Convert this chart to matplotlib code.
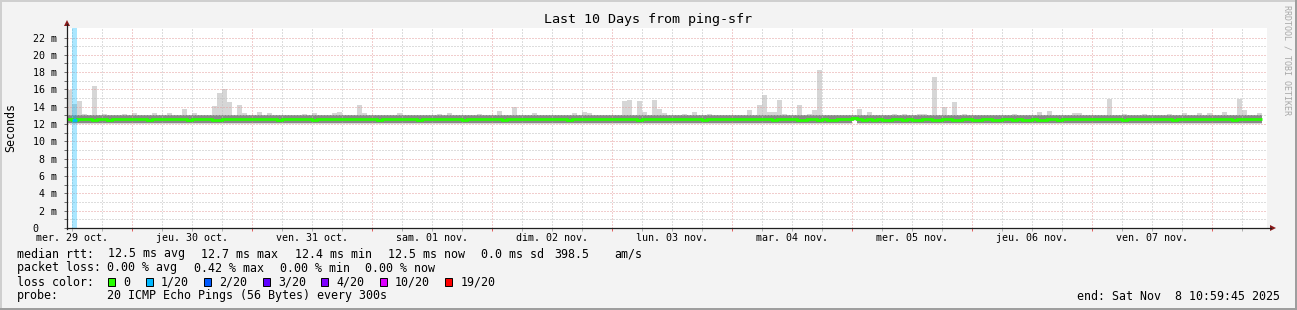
import matplotlib
matplotlib.use('Agg')
import matplotlib.pyplot as plt
from matplotlib.lines import Line2D
from matplotlib.patches import Polygon, Rectangle

# ---------------- data (hourly, 29 oct 11:00 -> 08 nov 10:00) ----------------
ping_max = [
    15.9, 14.3, 14.7, 13.15, 13.1, 16.35, 13.1, 13.15, 13.1, 13.1, 13.1, 13.15, 13.1,
    13.3, 13.1, 13.1, 13.1, 13.3, 13.1, 13.1, 13.3, 13.1, 13.1, 13.8, 13.1,
    13.3, 13.1, 13.1, 13.1, 14.1, 15.65, 16.1, 14.6, 13.1, 14.25, 13.3, 13.1,
    13.1, 13.35, 13.1, 13.25, 13.1, 13.1, 13.1, 13.1, 13.1, 13.1, 13.15, 13.1,
    13.25, 13.1, 13.1, 13.1, 13.25, 13.4, 13.1, 13.1, 13.1, 14.15, 13.25, 13.1,
    13.1, 13.1, 13.1, 13.1, 13.1, 13.25, 13.1, 13.1, 13.1, 13.1, 13.1, 13.1,
    13.1, 13.15, 13.1, 13.25, 13.1, 13.1, 13.1, 13.1, 13.1, 13.15, 13.1, 13.1,
    13.1, 13.55, 13.1, 13.1, 13.95, 13.1, 13.1, 13.1, 13.3, 13.1, 13.1, 13.1,
    13.1, 13.1, 13.1, 13.1, 13.25, 13.1, 13.35, 13.25, 13.1, 13.1, 13.1, 13.1,
    13.1, 13.1, 14.65, 14.8, 13.1, 14.7, 13.35, 13.1, 14.8, 13.8, 13.25, 13.1,
    13.1, 13.1, 13.2, 13.1, 13.35, 13.1, 13.1, 13.2, 13.1, 13.1, 13.1, 13.1,
    13.1, 13.1, 13.1, 13.6, 13.1, 14.15, 15.4, 13.35, 13.35, 14.8, 13.2, 13.1,
    13.1, 14.15, 13.1, 13.2, 13.65, 18.2, 13.1, 13.1, 13.1, 13.1, 13.1, 13.1,
    13.1, 13.8, 13.1, 13.35, 13.1, 13.1, 13.1, 13.1, 13.2, 13.1, 13.2, 13.1,
    13.1, 13.15, 13.2, 13.1, 17.4, 13.1, 14.0, 13.1, 14.6, 13.1, 13.2, 13.1,
    13.1, 13.1, 13.1, 13.1, 13.1, 13.1, 13.1, 13.1, 13.2, 13.1, 13.1, 13.1,
    13.1, 13.35, 13.1, 13.5, 13.1, 13.1, 13.1, 13.1, 13.25, 13.25, 13.1, 13.1,
    13.1, 13.1, 13.1, 14.95, 13.1, 13.1, 13.2, 13.1, 13.1, 13.1, 13.2, 13.1,
    13.1, 13.1, 13.1, 13.2, 13.1, 13.1, 13.25, 13.1, 13.1, 13.25, 13.1, 13.25,
    13.1, 13.1, 13.35, 13.1, 13.1, 14.95, 13.6, 13.1, 13.1, 13.25,
]

ping_p75 = [
    13.05, 13.05, 13.05, 13.05, 13.05, 13.05, 13.05, 13.05, 13.05, 13.05, 13.05, 13.05, 13.05,
    13.05, 13.05, 13.05, 13.05, 13.05, 13.05, 13.05, 13.05, 13.05, 13.05, 13.05, 13.05,
    13.05, 13.05, 13.05, 13.05, 13.05, 13.05, 13.05, 13.05, 13.05, 13.05, 13.05, 13.05,
    13.05, 13.05, 13.05, 13.05, 13.05, 13.05, 13.05, 13.05, 13.05, 13.05, 13.05, 13.05,
    13.05, 13.05, 13.05, 13.05, 13.05, 13.05, 13.05, 13.05, 13.05, 13.05, 13.05, 13.05,
    13.05, 13.05, 13.05, 13.05, 13.05, 13.05, 13.05, 13.05, 13.05, 13.05, 13.05, 13.05,
    13.05, 13.05, 13.05, 13.05, 13.05, 13.05, 13.05, 13.05, 13.05, 13.05, 13.05, 13.05,
    13.05, 13.05, 13.05, 13.05, 13.05, 13.05, 13.05, 13.05, 13.05, 13.05, 13.05, 13.05,
    13.05, 13.05, 13.05, 13.05, 13.05, 13.05, 13.05, 13.05, 13.05, 13.05, 13.05, 13.05,
    13.05, 13.05, 13.05, 13.05, 13.05, 13.05, 13.05, 13.05, 13.05, 13.05, 13.05, 13.05,
    13.05, 13.05, 13.05, 13.05, 13.05, 13.05, 13.05, 13.05, 13.05, 13.05, 13.05, 13.05,
    13.05, 13.05, 13.05, 13.05, 13.05, 13.05, 13.05, 13.05, 13.05, 13.05, 13.05, 13.05,
    13.05, 13.05, 13.05, 13.05, 13.05, 13.05, 13.05, 13.05, 13.05, 13.05, 13.05, 13.05,
    13.08, 13.05, 13.05, 13.05, 13.05, 13.05, 13.05, 13.05, 13.05, 13.05, 13.05, 13.05,
    13.05, 13.05, 13.05, 13.05, 13.05, 13.05, 13.05, 13.05, 13.05, 13.05, 13.05, 13.05,
    13.05, 13.05, 13.05, 13.05, 13.05, 13.05, 13.05, 13.05, 13.05, 13.05, 13.05, 13.05,
    13.05, 13.05, 13.05, 13.05, 13.05, 13.05, 13.05, 13.05, 13.05, 13.05, 13.05, 13.05,
    13.05, 13.05, 13.05, 13.05, 13.05, 13.05, 13.05, 13.05, 13.05, 13.05, 13.05, 13.05,
    13.05, 13.05, 13.05, 13.05, 13.05, 13.05, 13.05, 13.05, 13.05, 13.05, 13.05, 13.05,
    13.05, 13.05, 13.05, 13.05, 13.05, 13.05, 13.05, 13.05, 13.05, 13.05,
]

median_rtt = [
    12.55, 12.52, 12.55, 12.55, 12.57, 12.47, 12.55, 12.55, 12.5, 12.55, 12.55, 12.57, 12.55,
    12.55, 12.55, 12.57, 12.52, 12.55, 12.55, 12.55, 12.57, 12.55, 12.55, 12.55, 12.52,
    12.55, 12.55, 12.55, 12.55, 12.52, 12.47, 12.55, 12.55, 12.57, 12.55, 12.55, 12.55,
    12.55, 12.55, 12.57, 12.55, 12.55, 12.52, 12.55, 12.55, 12.55, 12.57, 12.55, 12.55,
    12.52, 12.55, 12.55, 12.57, 12.55, 12.55, 12.55, 12.55, 12.57, 12.55, 12.55, 12.55,
    12.55, 12.52, 12.55, 12.55, 12.55, 12.57, 12.55, 12.55, 12.55, 12.52, 12.55, 12.55,
    12.55, 12.57, 12.55, 12.55, 12.55, 12.55, 12.52, 12.55, 12.55, 12.55, 12.57, 12.55,
    12.55, 12.55, 12.52, 12.55, 12.57, 12.55, 12.55, 12.55, 12.55, 12.57, 12.55, 12.55,
    12.55, 12.55, 12.55, 12.52, 12.55, 12.55, 12.57, 12.55, 12.55, 12.55, 12.55, 12.55,
    12.55, 12.57, 12.55, 12.55, 12.55, 12.52, 12.55, 12.55, 12.55, 12.57, 12.55, 12.55,
    12.55, 12.55, 12.57, 12.55, 12.55, 12.55, 12.52, 12.55, 12.55, 12.55, 12.57, 12.55,
    12.55, 12.55, 12.55, 12.57, 12.55, 12.55, 12.55, 12.55, 12.52, 12.55, 12.55, 12.55,
    12.55, 12.52, 12.5, 12.55, 12.55, 12.5, 12.55, 12.52, 12.5, 12.55, 12.55, 12.55,
    12.72, 12.55, 12.52, 12.55, 12.5, 12.55, 12.52, 12.5, 12.55, 12.55, 12.5, 12.55,
    12.52, 12.5, 12.55, 12.55, 12.52, 12.5, 12.55, 12.55, 12.5, 12.52, 12.55, 12.55,
    12.52, 12.5, 12.55, 12.55, 12.5, 12.52, 12.55, 12.55, 12.5, 12.55, 12.52, 12.5,
    12.55, 12.52, 12.5, 12.55, 12.55, 12.52, 12.55, 12.55, 12.55, 12.57, 12.55, 12.55,
    12.55, 12.55, 12.55, 12.57, 12.55, 12.55, 12.52, 12.55, 12.55, 12.55, 12.57, 12.55,
    12.55, 12.55, 12.55, 12.55, 12.52, 12.55, 12.55, 12.57, 12.55, 12.55, 12.55, 12.55,
    12.55, 12.57, 12.55, 12.55, 12.52, 12.55, 12.55, 12.55, 12.57, 12.55,
]

ping_p25 = [
    12.12, 12.12, 12.12, 12.12, 12.12, 12.12, 12.12, 12.12, 12.12, 12.12, 12.12, 12.12, 12.12,
    12.12, 12.12, 12.12, 12.12, 12.12, 12.12, 12.12, 12.12, 12.12, 12.12, 12.12, 12.12,
    12.12, 12.12, 12.12, 12.12, 12.12, 12.12, 12.12, 12.12, 12.12, 12.12, 12.12, 12.12,
    12.12, 12.12, 12.12, 12.12, 12.12, 12.12, 12.12, 12.12, 12.12, 12.12, 12.12, 12.12,
    12.12, 12.12, 12.12, 12.12, 12.12, 12.12, 12.12, 12.12, 12.12, 12.12, 12.12, 12.12,
    12.12, 12.12, 12.12, 12.12, 12.12, 12.12, 12.12, 12.12, 12.12, 12.12, 12.12, 12.12,
    12.12, 12.12, 12.12, 12.12, 12.12, 12.12, 12.12, 12.12, 12.12, 12.12, 12.12, 12.12,
    12.12, 12.12, 12.12, 12.12, 12.12, 12.12, 12.12, 12.12, 12.12, 12.12, 12.12, 12.12,
    12.12, 12.12, 12.12, 12.12, 12.12, 12.12, 12.12, 12.12, 12.12, 12.12, 12.12, 12.12,
    12.12, 12.12, 12.12, 12.12, 12.12, 12.12, 12.12, 12.12, 12.12, 12.12, 12.12, 12.12,
    12.12, 12.12, 12.12, 12.12, 12.12, 12.12, 12.12, 12.12, 12.12, 12.12, 12.12, 12.12,
    12.12, 12.12, 12.12, 12.12, 12.12, 12.12, 12.12, 12.12, 12.12, 12.12, 12.12, 12.12,
    12.12, 12.12, 12.12, 12.12, 12.12, 12.12, 12.12, 12.12, 12.12, 12.12, 12.12, 12.12,
    12.5, 12.12, 12.12, 12.12, 12.12, 12.12, 12.12, 12.12, 12.12, 12.12, 12.12, 12.12,
    12.12, 12.12, 12.12, 12.12, 12.12, 12.12, 12.12, 12.12, 12.12, 12.12, 12.12, 12.12,
    12.12, 12.12, 12.12, 12.12, 12.12, 12.12, 12.12, 12.12, 12.12, 12.12, 12.12, 12.12,
    12.12, 12.12, 12.12, 12.12, 12.12, 12.12, 12.12, 12.12, 12.12, 12.12, 12.12, 12.12,
    12.12, 12.12, 12.12, 12.12, 12.12, 12.12, 12.12, 12.12, 12.12, 12.12, 12.12, 12.12,
    12.12, 12.12, 12.12, 12.12, 12.12, 12.12, 12.12, 12.12, 12.12, 12.12, 12.12, 12.12,
    12.12, 12.12, 12.12, 12.12, 12.12, 12.12, 12.12, 12.12, 12.12, 12.12,
]

ping_min = [
    12.04, 12.04, 12.04, 12.04, 12.04, 12.04, 12.04, 12.04, 12.04, 12.04, 12.04, 12.04, 12.04,
    12.04, 12.04, 12.04, 12.04, 12.04, 12.04, 12.04, 12.04, 12.04, 12.04, 12.04, 12.04,
    12.04, 12.04, 12.04, 12.04, 12.04, 12.04, 12.04, 12.04, 12.04, 12.04, 12.04, 12.04,
    12.04, 12.04, 12.04, 12.04, 12.04, 12.04, 12.04, 12.04, 12.04, 12.04, 12.04, 12.04,
    12.04, 12.04, 12.04, 12.04, 12.04, 12.04, 12.04, 12.04, 12.04, 12.04, 12.04, 12.04,
    12.04, 12.04, 12.04, 12.04, 12.04, 12.04, 12.04, 12.04, 12.04, 12.04, 12.04, 12.04,
    12.04, 12.04, 12.04, 12.04, 12.04, 12.04, 12.04, 12.04, 12.04, 12.04, 12.04, 12.04,
    12.04, 12.04, 12.04, 12.04, 12.04, 12.04, 12.04, 12.04, 12.04, 12.04, 12.04, 12.04,
    12.04, 12.04, 12.04, 12.04, 12.04, 12.04, 12.04, 12.04, 12.04, 12.04, 12.04, 12.04,
    12.04, 12.04, 12.04, 12.04, 12.04, 12.04, 12.04, 12.04, 12.04, 12.04, 12.04, 12.04,
    12.04, 12.04, 12.04, 12.04, 12.04, 12.04, 12.04, 12.04, 12.04, 12.04, 12.04, 12.04,
    12.04, 12.04, 12.04, 12.04, 12.04, 12.04, 12.04, 12.04, 12.04, 12.04, 12.04, 12.04,
    12.04, 12.04, 12.04, 12.04, 12.04, 12.04, 12.04, 12.04, 12.04, 12.04, 12.04, 12.04,
    12.4, 12.04, 12.04, 12.04, 12.04, 12.04, 12.04, 12.04, 12.04, 12.04, 12.04, 12.04,
    12.04, 12.04, 12.04, 12.04, 12.04, 12.04, 12.04, 12.04, 12.04, 12.04, 12.04, 12.04,
    12.04, 12.04, 12.04, 12.04, 12.04, 12.04, 12.04, 12.04, 12.04, 12.04, 12.04, 12.04,
    12.04, 12.04, 12.04, 12.04, 12.04, 12.04, 12.04, 12.04, 12.04, 12.04, 12.04, 12.04,
    12.04, 12.04, 12.04, 12.04, 12.04, 12.04, 12.04, 12.04, 12.04, 12.04, 12.04, 12.04,
    12.04, 12.04, 12.04, 12.04, 12.04, 12.04, 12.04, 12.04, 12.04, 12.04, 12.04, 12.04,
    12.04, 12.04, 12.04, 12.04, 12.04, 12.04, 12.04, 12.04, 12.04, 12.04,
]

loss_hours = [1]          # hour index with packet loss
loss_levels = [1]         # lost pings out of 20

day_labels = ['mer. 29 oct.', 'jeu. 30 oct.', 'ven. 31 oct.', 'sam. 01 nov.',
              'dim. 02 nov.', 'lun. 03 nov.', 'mar. 04 nov.', 'mer. 05 nov.',
              'jeu. 06 nov.', 'ven. 07 nov.']
first_midnight = 13.0      # hours after window start (29 oct 10:59:45)
window_hours = 240.0

rtt_stats = [('12.5', 'avg'), ('12.7', 'max'), ('12.4', 'min'), ('12.5', 'now')]
rtt_sd = '0.0'
am_s = '398.5'
loss_stats = [('0.00', 'avg'), ('0.42', 'max'), ('0.00', 'min'), ('0.00', 'now')]
loss_legend_labels = ['0', '1/20', '2/20', '3/20', '4/20', '10/20', '19/20']
loss_legend_colors = ['#26ff00', '#00b8ff', '#0059ff', '#5e00ff', '#7e00ff', '#dd00ff', '#ff0000']

# ---------------- figure ----------------
W, H = 1297, 310
MONO = 'DejaVu Sans Mono'
fig = plt.figure(figsize=(W / 100, H / 100), dpi=100, facecolor='#f3f3f3')

L, R, T, B = 67, 1267, 28, 228
ax = fig.add_axes([L / W, 1 - B / H, (R - L) / W, (B - T) / H])
ax.set_facecolor('white')
ax.set_xlim(0, window_hours)
ax.set_ylim(0, 23.1)
for s in ax.spines.values():
    s.set_visible(False)

n = len(ping_max)
idx = list(range(n))
# smoke
ax.bar(idx, [hi - lo for hi, lo in zip(ping_max, ping_min)], bottom=ping_min,
       width=1.0, align='edge', color='#d6d6d6', linewidth=0, zorder=1)
ax.bar(idx, [hi - lo for hi, lo in zip(ping_p75, ping_p25)], bottom=ping_p25,
       width=1.0, align='edge', color='#888888', linewidth=0, zorder=1.1)

# loss background
for h, lv in zip(loss_hours, loss_levels):
    ax.axvspan(h, h + 1, color=loss_legend_colors[lv], alpha=0.33, lw=0, zorder=2.8)

# median
ax.stairs(median_rtt, list(range(n + 1)), baseline=None, color='#26ff00',
          lw=2.0, zorder=3)
for h, lv in zip(loss_hours, loss_levels):
    ax.hlines(median_rtt[h], h, h + 1, color=loss_legend_colors[lv], lw=2.0, zorder=3.1)

# grid / ticks
major_x = [first_midnight + 24 * k for k in range(10)]
minor_x = [first_midnight - 12 + 6 * k for k in range(41) if (6 * k) % 24 != 12]
minor_x = [v for v in minor_x if 0 < v < window_hours]
ax.set_xticks(major_x)
ax.set_xticks(minor_x, minor=True)
ax.set_yticks(list(range(0, 23, 2)))
ax.set_yticks(list(range(1, 23, 2)), minor=True)
ax.set_axisbelow(False)
ax.grid(which='major', color='#e49c9c', ls=(0, (1, 2)), lw=0.72)
ax.grid(which='minor', color='#bdbdbd', ls=(0, (1, 2)), lw=0.72)
ax.set_yticklabels(['0   '] + ['%d m' % v for v in range(2, 23, 2)],
                   family=MONO, fontsize=7.2)
ax.tick_params(axis='y', which='both', direction='out', length=2.5, width=0.72,
               color='#707070', pad=4.5)
ax.tick_params(axis='x', which='both', direction='out', length=2.5, width=0.72,
               labelbottom=False)
ax.tick_params(axis='x', which='major', color='#e06060')
ax.tick_params(axis='x', which='minor', color='#b0b0b0')

for k, lab in enumerate(day_labels):
    ax.annotate(lab, xy=(first_midnight - 12 + 24 * k, 0),
                xycoords=('data', 'axes fraction'), xytext=(0, -10),
                textcoords='offset pixels', ha='center', va='center',
                fontsize=7.2, family=MONO, annotation_clip=False)


def fx(x):
    return x / W


def fy(y):
    return 1 - y / H


AX_C = '#202020'
ARROW_C = '#8b1a1a'
fig.add_artist(Line2D([fx(67), fx(67)], [fy(228.5), fy(24)], color=AX_C, lw=0.9))
fig.add_artist(Line2D([fx(66.5), fx(1271)], [fy(228), fy(228)], color=AX_C, lw=0.9))
fig.add_artist(Polygon([(fx(64), fy(26)), (fx(70), fy(26)), (fx(67), fy(20))],
                       closed=True, color=ARROW_C, lw=0))
fig.add_artist(Polygon([(fx(1270), fy(225)), (fx(1270), fy(231)), (fx(1276), fy(228))],
                       closed=True, color=ARROW_C, lw=0))

# borders
fig.add_artist(Rectangle((0, fy(2)), 1, 2 / H, color='#cfcfcf', lw=0))
fig.add_artist(Rectangle((0, 0), 2 / W, 1, color='#cfcfcf', lw=0))
fig.add_artist(Rectangle((0, 0), 1, 2 / H, color='#9e9e9e', lw=0))
fig.add_artist(Rectangle((1 - 2 / W, 0), 2 / W, 1, color='#9e9e9e', lw=0))


def ftext(x, y, s, size=8.4, ha='left', **kw):
    fig.text(fx(x), fy(y), s, ha=ha, va='center', fontsize=size, family=MONO, **kw)


ftext(648.5, 19, 'Last 10 Days from ping-sfr', size=9.6, ha='center')
ftext(11, 127, 'Seconds', rotation=90, ha='center')
fig.text(fx(1287), fy(60), 'RRDTOOL / TOBI OETIKER', rotation=270, ha='center',
         va='center', fontsize=6, family=MONO, color='#a8a8a8')

# legend rows
r1, r2, r3, r4 = 254, 268, 282, 296
ftext(16.6, r1, 'median rtt:')
for x, (v, w) in zip([108, 201.4, 294.8, 387.5], rtt_stats):
    ftext(x, r1, '%s ms %s' % (v, w))
ftext(480.6, r1, '%s ms sd' % rtt_sd)
ftext(554.4, r1, am_s)
ftext(614.6, r1, 'am/s')

ftext(16.6, r2, 'packet loss:')
for x, (v, w) in zip([107, 194, 279.5, 365.4], loss_stats):
    ftext(x, r2, '%s %% %s' % (v, w))

ftext(16.6, r3, 'loss color:')
x = 108.0
for lab, col in zip(loss_legend_labels, loss_legend_colors):
    fig.add_artist(Rectangle((fx(x), fy(r3 + 4)), 7 / W, 8 / H, facecolor=col,
                             edgecolor='black', lw=0.7))
    ftext(x + 15.5, r3, lab)
    x += 30.5 + 7 * len(lab)

ftext(16.6, r4, 'probe:')
ftext(107, r4, '20 ICMP Echo Pings (56 Bytes) every 300s')
ftext(1280, r4, 'end: Sat Nov  8 10:59:45 2025', ha='right')

fig.savefig('out.png', dpi=100, facecolor=fig.get_facecolor())
